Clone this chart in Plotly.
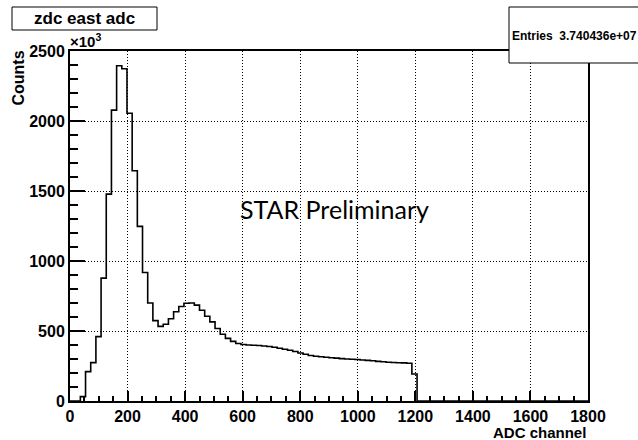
import numpy as np
import plotly.graph_objects as go

# ZDC east ADC spectrum: 100 bins of 18 ADC channels over 0-1800, counts in units of 10^3
bin_width = 18
n_bins = 100
counts_k = [
    0, 0, 31, 210, 274, 460, 878, 1478, 2078, 2395,
    2373, 2055, 1645, 1247, 918, 700, 574, 533, 548, 588,
    638, 675, 698, 700, 685, 648, 605, 565, 518, 477,
    447, 426, 411, 404, 400, 398, 396, 393, 389, 384,
    377, 370, 362, 354, 343, 334, 325, 320, 316, 312,
    309, 306, 303, 300, 298, 296, 293, 290, 287, 283,
    280, 277, 275, 273, 272, 270, 193,
]
counts_k = counts_k + [0] * (n_bins - len(counts_k))

x_ticks = [0, 200, 400, 600, 800, 1000, 1200, 1400, 1600, 1800]
y_ticks = [0, 500, 1000, 1500, 2000, 2500]

hist_title = "zdc east adc"
stats_text = "Entries  3.740436e+07"
x_title = "ADC channel"
y_title = "Counts"
watermark = "STAR Preliminary"

edges = np.arange(n_bins + 1) * bin_width
step_y = counts_k + [counts_k[-1]]

W, H = 638, 440
L, R, T, B = 70, 50, 51, 39
pw, ph = W - L - R, H - T - B


def px_x(px):
    return (px - L) / pw


def px_y(py):
    return (H - B - py) / ph


fig = go.Figure()
fig.add_trace(go.Scatter(
    x=edges, y=step_y, mode="lines", line_shape="hv",
    line=dict(color="black", width=1.6), hoverinfo="skip", showlegend=False,
))

tick_font = dict(family="Liberation Sans", size=16, color="black", weight="bold")

fig.update_xaxes(
    range=[0, 1800], tickvals=x_ticks, ticktext=[str(v) for v in x_ticks],
    ticks="inside", ticklen=10, tickwidth=1.5, tickcolor="black",
    minor=dict(ticks="inside", ticklen=5, tickwidth=1.5, tickcolor="black", dtick=50, showgrid=False),
    showline=True, linecolor="black", linewidth=2, mirror=True,
    showgrid=True, gridcolor="black", griddash="1px,2px", gridwidth=1,
    zeroline=False, tickfont=tick_font,
)
fig.update_yaxes(
    range=[0, 2500], tickvals=y_ticks, ticktext=[str(v) for v in y_ticks],
    ticks="inside", ticklen=15, tickwidth=1.5, tickcolor="black",
    minor=dict(ticks="inside", ticklen=7.5, tickwidth=1.5, tickcolor="black", dtick=100, showgrid=False),
    showline=True, linecolor="black", linewidth=2, mirror=True,
    showgrid=True, gridcolor="black", griddash="1px,2px", gridwidth=1,
    zeroline=False, tickfont=tick_font,
)

shapes = [
    # title box
    dict(type="rect", xref="paper", yref="paper",
         x0=px_x(12), x1=px_x(157), y0=px_y(30), y1=px_y(7),
         line=dict(color="black", width=1), fillcolor="white", layer="above"),
    # statistics box
    dict(type="rect", xref="paper", yref="paper",
         x0=px_x(509), x1=px_x(650), y0=px_y(63), y1=px_y(7),
         line=dict(color="black", width=1), fillcolor="white", layer="above"),
]

annotations = [
    dict(text=hist_title, xref="paper", yref="paper", x=px_x(84.5), y=px_y(18.5),
         xanchor="center", yanchor="middle", showarrow=False,
         font=dict(family="Liberation Sans", size=17, color="black", weight="bold")),
    dict(text=stats_text, xref="paper", yref="paper", x=px_x(574), y=px_y(36),
         xanchor="center", yanchor="middle", showarrow=False,
         font=dict(family="Liberation Sans", size=12, color="black", weight="bold")),
    dict(text="\u00d710<sup>3</sup>", xref="paper", yref="paper", x=px_x(68), y=px_y(52),
         xanchor="left", yanchor="bottom", showarrow=False,
         font=dict(family="Liberation Sans", size=15, color="black", weight="bold")),
    dict(text=y_title, xref="paper", yref="paper", x=px_x(18), y=px_y(78.5),
         xanchor="center", yanchor="middle", textangle=-90, showarrow=False,
         font=dict(family="Liberation Sans", size=16, color="black", weight="bold")),
    dict(text=x_title, xref="paper", yref="paper", x=px_x(588), y=px_y(432.5),
         xanchor="right", yanchor="middle", showarrow=False,
         font=dict(family="Liberation Sans", size=15, color="black", weight="bold")),
    dict(text=watermark, xref="paper", yref="paper", x=px_x(334), y=px_y(209),
         xanchor="center", yanchor="middle", showarrow=False,
         font=dict(family="Lato", size=25, color="black")),
]

fig.update_layout(
    width=W, height=H,
    margin=dict(l=L, r=R, t=T, b=B, pad=0),
    paper_bgcolor="white", plot_bgcolor="white",
    shapes=shapes, annotations=annotations,
    showlegend=False,
)

fig.write_html("out.html")
